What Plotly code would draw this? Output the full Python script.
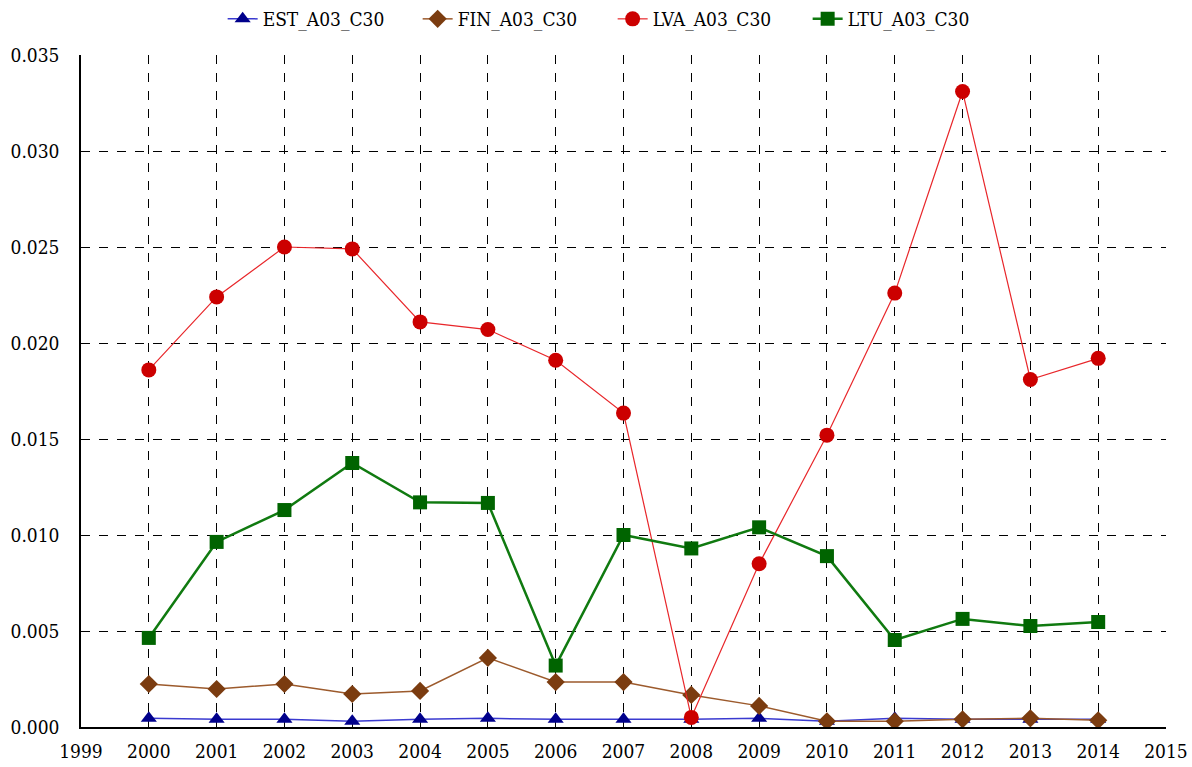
import plotly.graph_objects as go

years = list(range(2000, 2015))

est_a03_c30 = [0.00045, 0.0004, 0.0004, 0.0003, 0.0004, 0.00045, 0.0004, 0.0004,
               0.0004, 0.00045, 0.0003, 0.00045, 0.0004, 0.0004, 0.0004]
fin_a03_c30 = [0.00224, 0.00198, 0.00224, 0.00172, 0.00188, 0.0036, 0.00234, 0.00234,
               0.00167, 0.0011, 0.0003, 0.0003, 0.0004, 0.00045, 0.00035]
lva_a03_c30 = [0.0186, 0.0224, 0.0250, 0.0249, 0.0211, 0.0207, 0.0191, 0.01635,
               0.0005, 0.0085, 0.0152, 0.0226, 0.0331, 0.0181, 0.0192]
ltu_a03_c30 = [0.00464, 0.00964, 0.0113, 0.01375, 0.0117, 0.01167, 0.0032, 0.0100,
               0.0093, 0.0104, 0.0089, 0.00453, 0.00563, 0.00526, 0.00547]

x_tick_vals = list(range(1999, 2016))
x_tick_labels = [str(v) for v in x_tick_vals]
y_tick_vals = [0.0, 0.005, 0.010, 0.015, 0.020, 0.025, 0.030, 0.035]
y_tick_labels = ["0.000", "0.005", "0.010", "0.015", "0.020", "0.025", "0.030", "0.035"]

series = [
    ("EST_A03_C30", est_a03_c30, "#3a3ad0", 1.5, "#00008b", "triangle-up", 14),
    ("FIN_A03_C30", fin_a03_c30, "#9c5a2c", 1.5, "#7b3c10", "diamond", 14),
    ("LVA_A03_C30", lva_a03_c30, "#e8262a", 1.2, "#cc0000", "circle", 15),
    ("LTU_A03_C30", ltu_a03_c30, "#107a10", 2.5, "#006400", "square", 14),
]

fig = go.Figure()
for name, vals, lc, lw, mc, sym, ms in series:
    fig.add_trace(go.Scatter(
        x=years, y=vals, name=name, mode="lines+markers",
        line=dict(color=lc, width=lw),
        marker=dict(symbol=sym, size=ms, color=mc, line=dict(width=0)),
    ))

serif = "DejaVu Serif Condensed"
label_font = dict(family=serif, size=19, color="black")

fig.update_layout(
    template="none",
    width=1192, height=767,
    margin=dict(l=81, r=26, t=55, b=40, autoexpand=False),
    paper_bgcolor="white", plot_bgcolor="white",
    font=dict(family=serif, size=19, color="black"),
    legend=dict(orientation="h", x=0.49, xanchor="center",
                y=1.0, yanchor="top", yref="container",
                font=dict(family=serif, size=19),
                entrywidth=150, entrywidthmode="pixels",
                traceorder="normal", bgcolor="rgba(0,0,0,0)"),
    showlegend=True,
)

fig.update_xaxes(
    range=[1999, 2015], tickvals=x_tick_vals, ticktext=x_tick_labels,
    showgrid=True, gridcolor="black", griddash="dash", gridwidth=1,
    showline=True, linecolor="black", linewidth=1.5,
    zeroline=False, ticks="", ticklabelstandoff=6, automargin=False,
    tickfont=label_font,
)
fig.update_yaxes(
    range=[0, 0.035], tickvals=y_tick_vals, ticktext=y_tick_labels,
    showgrid=True, gridcolor="black", griddash="dash", gridwidth=1,
    showline=True, linecolor="black", linewidth=1.5,
    zeroline=False, ticks="", ticklabelstandoff=16, automargin=False,
    tickfont=label_font,
)

fig.write_html("out.html")
